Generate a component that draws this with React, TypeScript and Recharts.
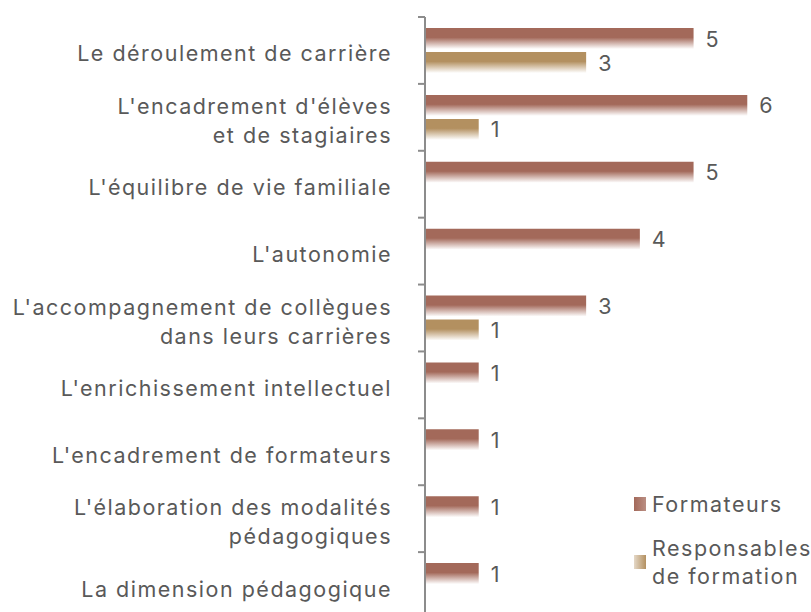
import React from "react";
import { BarChart, Bar, XAxis, YAxis, LabelList, Legend } from "recharts";

const CATEGORIES = [
  "Le déroulement de carrière",
  "L'encadrement d'élèves\net de stagiaires",
  "L'équilibre de vie familiale",
  "L'autonomie",
  "L'accompagnement de collègues\ndans leurs carrières",
  "L'enrichissement intellectuel",
  "L'encadrement de formateurs",
  "L'élaboration des modalités\npédagogiques",
  "La dimension pédagogique",
];
const FORMATEURS = [5, 6, 5, 4, 3, 1, 1, 1, 1];
const RESPONSABLES: (number | null)[] = [3, 1, null, null, 1, null, null, null, null];

const SERIES = [
  { key: "formateurs", name: "Formateurs", color: "#a3695a", lines: ["Formateurs"] },
  { key: "responsables", name: "Responsables de formation", color: "#b39060", lines: ["Responsables", "de formation"] },
];

const data = CATEGORIES.map((name, i) => ({
  name,
  formateurs: FORMATEURS[i],
  responsables: RESPONSABLES[i],
}));

const WIDTH = 811;
const HEIGHT = 630;
const MARGIN = { top: 17, right: 10, bottom: 11, left: 0 };
const HALF_BAND = (HEIGHT - MARGIN.top - MARGIN.bottom) / CATEGORIES.length / 2;
const TEXT = "#595959";
const AXIS = "#8c8c8c";
const FONT = "Inter, 'Noto Sans', sans-serif";
const FONT_SIZE = 21.5;
const SPACING = 1.5;

function CategoryTick(props: any) {
  const { x, y, payload } = props;
  const lines = String(payload.value).split("\n");
  const lh = 29;
  const start = -((lines.length - 1) * lh) / 2;
  return (
    <g>
      <line x1={x - 7} x2={x} y1={y - HALF_BAND} y2={y - HALF_BAND} stroke={AXIS} strokeWidth={2} />
      <text
        x={x - 33}
        y={y + 4}
        textAnchor="end"
        fill={TEXT}
        fontSize={FONT_SIZE}
        fontFamily={FONT}
        letterSpacing={SPACING}
      >
        {lines.map((l, i) => (
          <tspan key={i} x={x - 33} dy={i === 0 ? start + 7 : lh}>
            {l}
          </tspan>
        ))}
      </text>
    </g>
  );
}

function ValueLabel(props: any) {
  const { x, y, width, height, value } = props;
  if (value == null || value === 0) return null;
  return (
    <text x={x + width + 12} y={y + height / 2 + 8} fill={TEXT} fontSize={FONT_SIZE} fontFamily={FONT}>
      {value}
    </text>
  );
}

function LegendContent() {
  return (
    <div style={{ fontFamily: FONT, fontSize: FONT_SIZE, color: TEXT, lineHeight: "28px", letterSpacing: SPACING }}>
      {SERIES.map((s, i) => (
        <div key={s.key} style={{ display: "flex", alignItems: "center", marginBottom: i === 0 ? 16 : 0 }}>
          <svg width={12} height={14} style={{ marginRight: 6, flexShrink: 0 }}>
            <defs>
              <linearGradient id={`leg-${s.key}`} x1="0" y1="0" x2="1" y2="0">
                <stop offset="0%" stopColor={s.color} stopOpacity={i === 0 ? 1 : 0.35} />
                <stop offset="100%" stopColor={s.color} stopOpacity={i === 0 ? 0.75 : 1} />
              </linearGradient>
            </defs>
            <rect width={12} height={14} fill={`url(#leg-${s.key})`} />
          </svg>
          <div style={{ whiteSpace: "nowrap" }}>
            {s.lines.map((l) => (
              <div key={l}>{l}</div>
            ))}
          </div>
        </div>
      ))}
    </div>
  );
}

export default function App() {
  return (
    <div style={{ position: "fixed", top: 0, left: 0, width: 811, height: 612, overflow: "hidden", background: "#fff" }}>
      <BarChart
        width={WIDTH}
        height={HEIGHT}
        data={data}
        layout="vertical"
        margin={MARGIN}
        barSize={21}
        barGap={3}
      >
        <defs>
          {SERIES.map((s) => (
            <linearGradient key={s.key} id={`grad-${s.key}`} x1="0" y1="0" x2="0" y2="1">
              <stop offset="0%" stopColor={s.color} />
              <stop offset="45%" stopColor={s.color} />
              <stop offset="100%" stopColor="#ffffff" />
            </linearGradient>
          ))}
        </defs>
        <XAxis type="number" hide domain={[0, 7]} />
        <YAxis
          type="category"
          dataKey="name"
          width={425}
          axisLine={{ stroke: AXIS, strokeWidth: 2 }}
          tickLine={false}
          tickSize={0}
          tickMargin={0}
          tick={<CategoryTick />}
          interval={0}
        />
        <Legend
          layout="vertical"
          align="center"
          verticalAlign="middle"
          content={<LegendContent />}
          wrapperStyle={{ left: 634, top: 490, width: 180 }}
        />
        {SERIES.map((s) => (
          <Bar
            key={s.key}
            dataKey={s.key}
            name={s.name}
            fill={`url(#grad-${s.key})`}
            isAnimationActive={false}
          >
            <LabelList dataKey={s.key} content={<ValueLabel />} />
          </Bar>
        ))}
      </BarChart>
    </div>
  );
}
